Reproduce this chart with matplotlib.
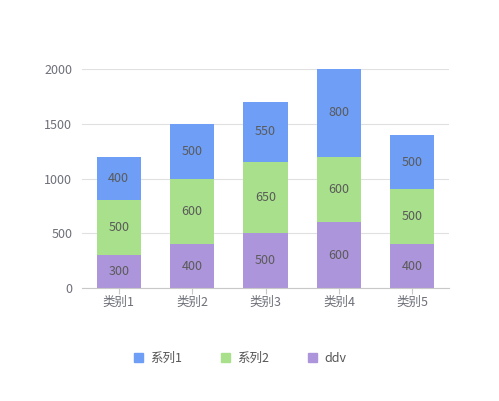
import numpy as np
import matplotlib.pyplot as plt
from matplotlib.patches import Patch

plt.rcParams['font.family'] = ['Noto Sans CJK SC', 'DejaVu Sans']

categories = ['类别1', '类别2', '类别3', '类别4', '类别5']
ddv = [300, 400, 500, 600, 400]
series2 = [500, 600, 650, 600, 500]
series1 = [400, 500, 550, 800, 500]

colors = {'系列1': '#6e9ef6', '系列2': '#a8e08b', 'ddv': '#ac95da'}

fig = plt.figure(figsize=(4.99, 4.01), dpi=100)
ax = fig.add_axes([82 / 499, 1 - 288 / 401, 367 / 499, 219 / 401])

x = np.arange(len(categories))
w = 0.6
bottom = np.zeros(len(categories))
for name, vals in [('ddv', ddv), ('系列2', series2), ('系列1', series1)]:
    bars = ax.bar(x, vals, w, bottom=bottom, color=colors[name], zorder=2)
    for xi, b, v in zip(x, bottom, vals):
        ax.text(xi, b + v / 2, str(v), ha='center', va='center',
                fontsize=9, color='#5a5a5a', zorder=3)
    bottom += np.array(vals)

ax.set_xlim(-0.5, len(categories) - 0.5)
ax.set_ylim(0, 2000)
ax.set_yticks([0, 500, 1000, 1500, 2000])
ax.set_xticks(x)
ax.set_xticklabels(categories)
ax.yaxis.grid(True, color='#e0e0e0', linewidth=0.8, zorder=0)
for s in ['top', 'right', 'left']:
    ax.spines[s].set_visible(False)
ax.spines['bottom'].set_color('#c8c8c8')
ax.tick_params(axis='y', length=0, pad=7, labelsize=9, labelcolor='#6e7079')
ax.tick_params(axis='x', length=4, color='#c8c8c8', pad=2, labelsize=9,
               labelcolor='#6e7079')

handles = [Patch(color=colors[n], label=n) for n in ['系列1', '系列2', 'ddv']]
fig.legend(handles=handles, loc='center', bbox_to_anchor=(240 / 499, 1 - 358 / 401),
           ncol=3, frameon=False, fontsize=9, handlelength=0.7,
           handleheight=0.7, handletextpad=0.6, columnspacing=3.1,
           labelcolor='#555555')

fig.savefig('out.png', dpi=100)
